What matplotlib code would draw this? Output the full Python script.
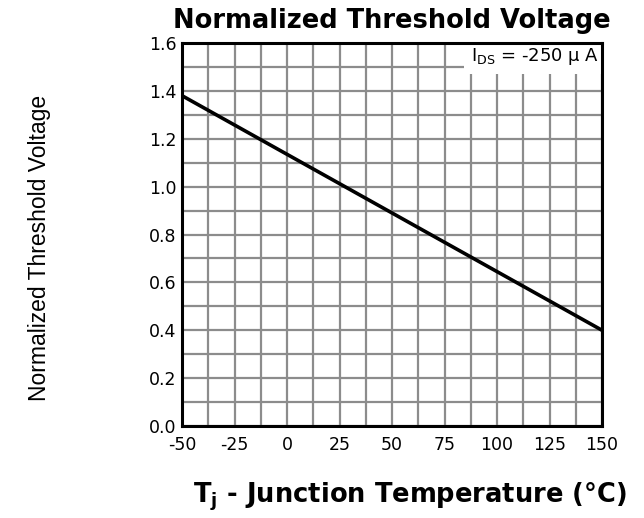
import matplotlib
matplotlib.use("Agg")
import matplotlib.pyplot as plt
import numpy as np

# Data
temps = [-50, 150]
vth_norm = [1.38, 0.40]
x_ticks = [-50, -25, 0, 25, 50, 75, 100, 125, 150]
y_ticks = [0.0, 0.2, 0.4, 0.6, 0.8, 1.0, 1.2, 1.4, 1.6]
x_grid_step = 12.5
y_grid_step = 0.1

fig = plt.figure(figsize=(6.44, 5.18), dpi=100)
ax = fig.add_axes([182/644, 1-426/518, (602-182)/644, (426-43)/518])

ax.set_xlim(-50, 150)
ax.set_ylim(0, 1.6)
ax.set_xticks(x_ticks)
ax.set_yticks(y_ticks)
ax.set_xticks(np.arange(-50, 150.01, x_grid_step), minor=True)
ax.set_yticks(np.arange(0, 1.601, y_grid_step), minor=True)
ax.set_xticklabels([str(v) for v in x_ticks])
ax.set_yticklabels([f"{v:.1f}" for v in y_ticks])
ax.grid(True, which='both', color='#8c8c8c', linewidth=1.6, zorder=1)
ax.set_axisbelow(True)
ax.tick_params(which='both', length=0)
ax.tick_params(axis='x', pad=7, labelsize=12.5)
ax.tick_params(axis='y', pad=4, labelsize=12.5)
for lab in ax.get_xticklabels() + ax.get_yticklabels():
    lab.set_family('DejaVu Sans')
for s in ax.spines.values():
    s.set_linewidth(2.2)
    s.set_color('black')
    s.set_zorder(5)

ax.plot(temps, vth_norm, color='black', linewidth=2.6, zorder=4, solid_capstyle='butt')

ax.text(148.5, 1.545, r"I$_{\mathrm{DS}}$ = -250 µ A", ha='right', va='center',
        fontsize=13, family='DejaVu Sans', zorder=3,
        bbox=dict(facecolor='white', edgecolor='none', pad=5))

fig.text(392/644, 1-21/518, "Normalized Threshold Voltage", ha='center', va='center',
         fontsize=18.5, fontweight='bold', family='DejaVu Sans')
fig.text(410/644, 1-497/518, r"T$_\mathregular{j}$ - Junction Temperature (°C)", ha='center', va='center',
         fontsize=18.5, fontweight='bold', family='DejaVu Sans')
fig.text(40/644, 1-248/518, "Normalized Threshold Voltage", ha='center', va='center',
         rotation=90, fontsize=16.5, family=['Liberation Sans Narrow', 'Liberation Sans', 'DejaVu Sans'])

fig.savefig("out.png", dpi=100)
